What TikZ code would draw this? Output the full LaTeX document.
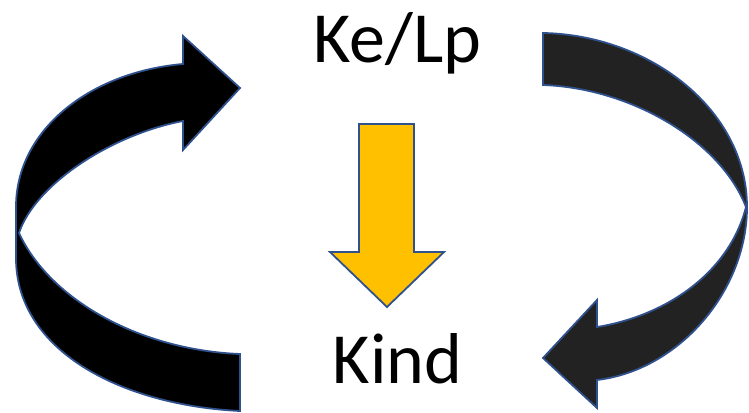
\documentclass[tikz,border=0pt]{standalone}
\usepackage{fontspec}
\setmainfont{Carlito}
\definecolor{rim}{HTML}{2F528F}
\definecolor{gold}{HTML}{FFC000}
\definecolor{coal}{HTML}{222222}
\begin{document}
\begin{tikzpicture}[x=1pt,y=-1pt,line width=1.8pt,line join=miter]
    \useasboundingbox (0,0) rectangle (749,412);
    \filldraw[draw=rim,fill=black] (240,411) .. controls (120,405) and (16,350) .. (16,258)--(16,207)
        .. controls (16,130) and (90,72) .. (183,64)--(183,36)--(240,88)--(183,150)--(183,121)
        .. controls (110,135) and (35,185) .. (19,233)
        .. controls (50,300) and (140,350) .. (240,354)--cycle;
    \filldraw[draw=rim,fill=coal] (543,33) .. controls (650,35) and (747,110) .. (747,207)
        .. controls (747,290) and (680,370) .. (597,380)--(597,408)--(543,358)--(597,300)--(597,327)
        .. controls (670,315) and (730,270) .. (746,207)
        .. controls (720,140) and (630,88) .. (543,85)--cycle;
    \filldraw[draw=rim,fill=gold] (359,124)--(414,124)--(414,252)--(444,252)--(387,307)--(330,252)--(359,252)--cycle;
    \node[anchor=base,inner sep=0pt,font=\fontsize{72}{80}\selectfont](top) at (397.5,63) {Ke/Lp};
    \node[anchor=base,inner sep=0pt,font=\fontsize{72}{80}\selectfont](bot) at (397.5,383) {Kind};
\end{tikzpicture}
\end{document}
